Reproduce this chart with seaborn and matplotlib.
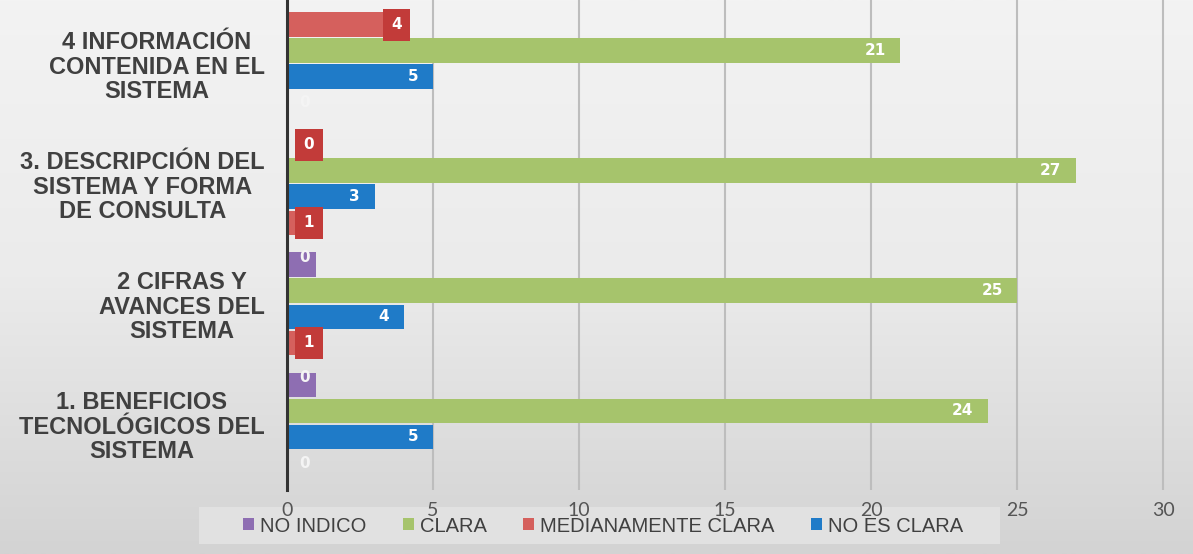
import numpy as np
import pandas as pd
import seaborn as sns
import matplotlib.pyplot as plt
from matplotlib.patches import Patch, Rectangle
from matplotlib.colors import LinearSegmentedColormap

# categorias de abajo hacia arriba
categorias = ['1. BENEFICIOS\nTECNOLÓGICOS DEL\nSISTEMA',
              '2 CIFRAS Y\nAVANCES DEL\nSISTEMA',
              '3. DESCRIPCIÓN DEL\nSISTEMA Y FORMA\nDE CONSULTA',
              '4 INFORMACIÓN\nCONTENIDA EN EL\nSISTEMA']

# filas de cada grupo, de arriba hacia abajo
serie_arriba = ['NO INDICO', 'NO INDICO', 'MEDIANAMENTE CLARA', 'MEDIANAMENTE CLARA']
valor_arriba = [1, 1, 0, 4]
etiqueta_arriba = ['0', '0', '0', '4']
clara = [24, 25, 27, 21]
no_es_clara = [5, 4, 3, 5]
serie_abajo = ['NO INDICO', 'MEDIANAMENTE CLARA', 'MEDIANAMENTE CLARA', 'NO INDICO']
valor_abajo = [0, 1, 1, 0]
etiqueta_abajo = ['0', '1', '1', '0']

leyenda = ['NO INDICO', 'CLARA', 'MEDIANAMENTE CLARA', 'NO ES CLARA']
colores = {'NO INDICO': '#8E6EB2', 'CLARA': '#A6C46C',
           'MEDIANAMENTE CLARA': '#D5605D', 'NO ES CLARA': '#1F7BC8'}
rojo_caja = '#C23B39'
ticks_x = [0, 5, 10, 15, 20, 25, 30]

# tabla larga
paso = 0.2167
desplaz = [1.5 * paso, 0.5 * paso, -0.5 * paso, -1.5 * paso]
filas = []
for g in range(len(categorias)):
    filas.append((g + desplaz[0], serie_arriba[g], valor_arriba[g], etiqueta_arriba[g]))
    filas.append((g + desplaz[1], 'CLARA', clara[g], str(clara[g])))
    filas.append((g + desplaz[2], 'NO ES CLARA', no_es_clara[g], str(no_es_clara[g])))
    filas.append((g + desplaz[3], serie_abajo[g], valor_abajo[g], etiqueta_abajo[g]))
df = pd.DataFrame(filas, columns=['pos', 'serie', 'valor', 'etiqueta'])

W, H = 1193, 554
fig = plt.figure(figsize=(W / 100, H / 100), dpi=100)

# fondo degradado (la leyenda va aqui, por debajo del eje)
fondo = fig.add_axes([0, 0, 1, 1], zorder=-1)
grad = np.linspace(0, 1, 256).reshape(-1, 1)
fondo.imshow(grad, aspect='auto', extent=[0, 1, 0, 1],
             cmap=LinearSegmentedColormap.from_list('g', ['#F3F3F3', '#EBEBEB', '#D3D3D3']))
fondo.set_xlim(0, 1)
fondo.set_ylim(0, 1)
fondo.axis('off')

ax = fig.add_axes([287 / W, 1 - 490 / H, 1 - 287 / W - 15 / W, 490 / H])
ax.set_facecolor('none')

sns.barplot(data=df, x='valor', y='pos', hue='serie', palette=colores, orient='h',
            native_scale=True, dodge=False, width=0.96, legend=False,
            saturation=1, errorbar=None, ax=ax)

for _, r in df.iterrows():
    if r['serie'] == 'MEDIANAMENTE CLARA':
        ax.text(max(r['valor'], 1) - 0.25, r['pos'], r['etiqueta'], color='white',
                fontsize=11, fontweight='bold', ha='center', va='center',
                bbox=dict(boxstyle='square,pad=0.55', fc=rojo_caja, ec='none'))
    elif r['serie'] == 'NO INDICO':
        dy = 0.06 if r['valor'] > 0 else 0
        ax.text(0.6, r['pos'] + dy, r['etiqueta'], color='#F4F4F4',
                fontsize=11, fontweight='bold', ha='center', va='center')
    else:
        ax.text(r['valor'] - 0.5, r['pos'], r['etiqueta'], color='white',
                fontsize=11, fontweight='bold', ha='right', va='center')

ax.set_xlim(0, 30.5)
ax.set_ylim(-0.55, 3.533)
ax.set_xticks(ticks_x)
ax.set_xticklabels([str(t) for t in ticks_x], fontsize=14, color='#555555',
                   family=['Lato', 'DejaVu Sans'])
ax.set_yticks(range(len(categorias)))
ax.set_yticklabels(categorias, fontsize=17, fontweight='bold', color='#404040',
                   family=['Liberation Sans', 'DejaVu Sans'], linespacing=1.08)
for lab in ax.get_yticklabels():
    lab.set_multialignment('center')
ax.tick_params(axis='both', length=0)
ax.tick_params(axis='y', pad=16)
ax.tick_params(axis='x', pad=9)
ax.set_xlabel('')
ax.set_ylabel('')

ax.set_axisbelow(True)
ax.xaxis.grid(True, color='#BDBDBD', linewidth=1.5)
ax.yaxis.grid(False)
for s in ['top', 'right', 'bottom']:
    ax.spines[s].set_visible(False)
ax.spines['left'].set_color('#333333')
ax.spines['left'].set_linewidth(2.2)
ax.spines['left'].set_zorder(5)

# caja de la leyenda
fondo.add_patch(Rectangle((199 / W, 1 - 544 / H), 801 / W, 37 / H,
                          facecolor='#E4E4E4', edgecolor='none', alpha=0.85, zorder=3))
handles = [Patch(facecolor=colores[s], edgecolor='none') for s in leyenda]
fondo.legend(handles, leyenda, loc='center', bbox_to_anchor=(603 / W, 1 - 526 / H),
             bbox_transform=fig.transFigure, ncol=4, frameon=False,
             handlelength=0.55, handleheight=0.55, handletextpad=0.3,
             columnspacing=1.8, borderpad=0.2,
             prop={'family': ['Liberation Sans', 'DejaVu Sans'], 'size': 14.5},
             labelcolor='#404040')

fig.savefig('out.png', dpi=100)
